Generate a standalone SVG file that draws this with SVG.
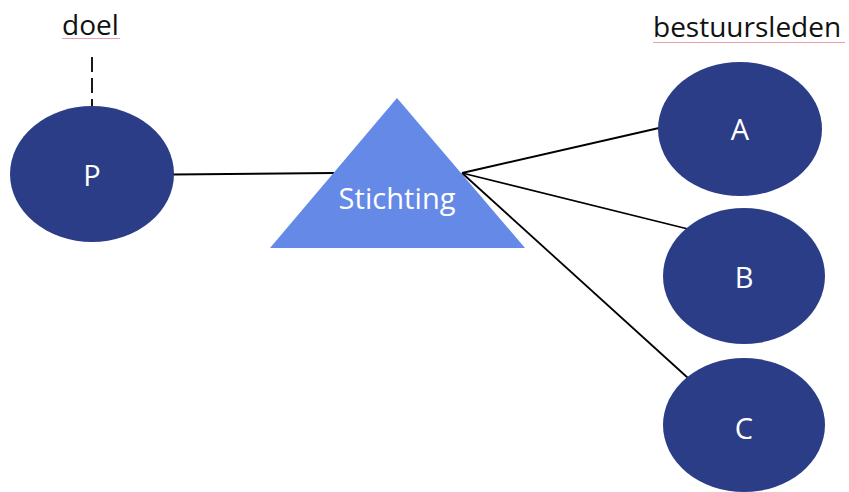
<svg xmlns="http://www.w3.org/2000/svg" width="849" height="492" viewBox="0 0 849 492">
  <style>
    .node { fill: #2C3D87; }
    .tri { fill: #6489E6; }
    .lbl { font-family: "Open Sans", "Noto Sans", "Liberation Sans", sans-serif; font-size: 29px; fill: #ffffff; text-anchor: middle; }
    .ttl { font-family: "Open Sans", "Noto Sans", "Liberation Sans", sans-serif; font-size: 28px; fill: #111111; }
    .conn { stroke: #000000; stroke-width: 1.8; fill: none; }
    .squig { stroke: #E8A0A8; stroke-width: 1; fill: none; }
  </style>
  <rect width="849" height="492" fill="#ffffff"/>
  <g id="titles">
    <text class="ttl" x="62" y="35">doel</text>
    <path class="squig" d="M62 38.5 h58"/>
    <text class="ttl" x="653" y="37">bestuursleden</text>
    <path class="squig" d="M653 42.5 h192"/>
  </g>
  <g id="connectors">
    <line class="conn" x1="92" y1="57" x2="92" y2="106" stroke-dasharray="15 6" stroke-width="2"/>
    <line class="conn" x1="173" y1="174.5" x2="334" y2="173"/>
    <line class="conn" x1="462" y1="173" x2="659" y2="128"/>
    <line class="conn" x1="462" y1="173" x2="688" y2="229"/>
    <line class="conn" x1="462" y1="173" x2="688" y2="378"/>
  </g>
  <g id="node-P">
    <ellipse class="node" cx="92" cy="174" rx="82" ry="68"/>
    <text class="lbl" x="92" y="186">P</text>
  </g>
  <g id="node-stichting">
    <polygon class="tri" points="397,98 525,248 270,248"/>
    <text class="lbl" x="397" y="209" textLength="117">Stichting</text>
  </g>
  <g id="node-A">
    <ellipse class="node" cx="740" cy="129" rx="82" ry="67"/>
    <text class="lbl" x="740" y="140">A</text>
  </g>
  <g id="node-B">
    <ellipse class="node" cx="744" cy="276" rx="81" ry="68"/>
    <text class="lbl" x="744" y="288">B</text>
  </g>
  <g id="node-C">
    <ellipse class="node" cx="744" cy="425" rx="81" ry="67"/>
    <text class="lbl" x="744" y="439">C</text>
  </g>
</svg>
